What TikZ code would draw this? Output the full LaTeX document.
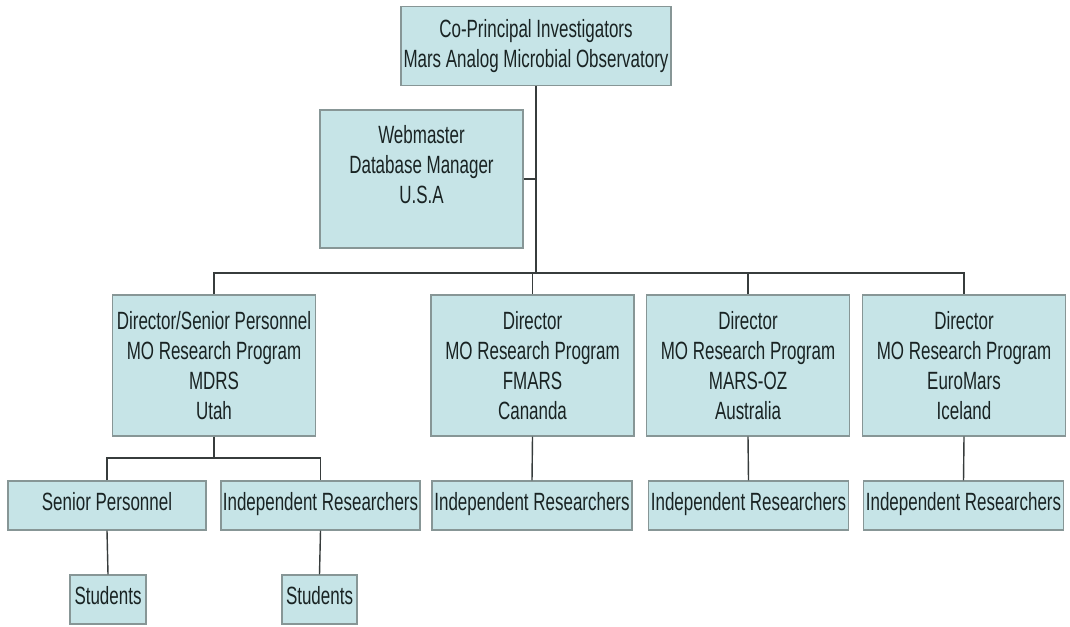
\documentclass[tikz,border=0pt]{standalone}
\usepackage{fontspec}
\setmainfont{Liberation Sans}[FakeStretch=0.68]
\definecolor{boxfill}{RGB}{198,228,231}
\definecolor{boxline}{RGB}{135,150,150}
\definecolor{linkline}{RGB}{55,60,60}
\definecolor{boxtext}{RGB}{25,35,35}

\begin{document}
\begin{tikzpicture}[
  orgbox/.style={draw=boxline, fill=boxfill, line width=0.8pt, rectangle, align=center,
    inner sep=1pt, text=boxtext, font=\fontsize{14.2pt}{17.07pt}\selectfont},
  onebox/.style={orgbox, minimum height=0.98cm, text height=1.6ex, text depth=0.5ex},
  link/.style={draw=linkline, line width=0.8pt}]

\useasboundingbox (0,0) rectangle (21.4,12.52);

% co-principal investigators and webmaster
\node[orgbox, minimum height=1.58cm, minimum width=5.4cm] at (10.72, 11.6) (copi) {Co-Principal Investigators\\Mars Analog Microbial Observatory};
\node[orgbox, minimum height=2.76cm, minimum width=4.06cm] at ( 8.43,  8.94) (web) {Webmaster\\Database Manager\\U.S.A\\~};

% directors of the research programs
\node[orgbox, minimum height=2.82cm, minimum width=4.06cm] at ( 4.28,  5.21) (mdrs) {Director/Senior Personnel\\MO Research Program\\MDRS\\Utah};
\node[orgbox, minimum height=2.82cm, minimum width=4.06cm] at (10.65,  5.21) (fmars) {Director\\MO Research Program\\FMARS\\Cananda};
\node[orgbox, minimum height=2.82cm, minimum width=4.06cm] at (14.96,  5.21) (marsoz) {Director\\MO Research Program\\MARS-OZ\\Australia};
\node[orgbox, minimum height=2.82cm, minimum width=4.06cm] at (19.28,  5.21) (euro) {Director\\MO Research Program\\EuroMars\\Iceland};

% personnel and researchers
\node[onebox, minimum width=3.96cm] at ( 2.14,  2.41) (senior) {Senior Personnel};
\node[onebox, minimum width=3.98cm] at ( 6.41,  2.41) (indmdrs) {Independent Researchers};
\node[onebox, minimum width=4.0cm] at (10.64,  2.41) (indfmars) {Independent Researchers};
\node[onebox, minimum width=4.0cm] at (14.97,  2.41) (indmarsoz) {Independent Researchers};
\node[onebox, minimum width=4.0cm] at (19.27,  2.41) (indeuro) {Independent Researchers};

% students
\node[onebox, minimum width=1.52cm] at ( 2.16,  0.53) (stsenior) {Students};
\node[onebox, minimum width=1.5cm] at ( 6.39,  0.53) (stind) {Students};

% bus lines
\coordinate (bus) at (0, 7.06);
\coordinate (subbus) at (0, 3.36);

% top of the chart
\draw[link] (copi.south) -- (copi.south |- bus);
\draw[link] (web.east) -- (web.east -| copi.south);

% directors on the bus
\draw[link] (mdrs.north) |- (euro.north |- bus) -- (euro.north);
\draw[link] (fmars.north) -- (fmars.north |- bus);
\draw[link] (marsoz.north) -- (marsoz.north |- bus);

% below the directors
\draw[link] (mdrs.south) -- (mdrs.south |- subbus);
\draw[link] (senior.north) |- (indmdrs.north |- subbus) -- (indmdrs.north);
\draw[link] (fmars.south) -- (indfmars.north);
\draw[link] (marsoz.south) -- (indmarsoz.north);
\draw[link] (euro.south) -- (indeuro.north);
\draw[link] (senior.south) -- (stsenior.north);
\draw[link] (indmdrs.south) -- (stind.north);

\end{tikzpicture}
\end{document}
